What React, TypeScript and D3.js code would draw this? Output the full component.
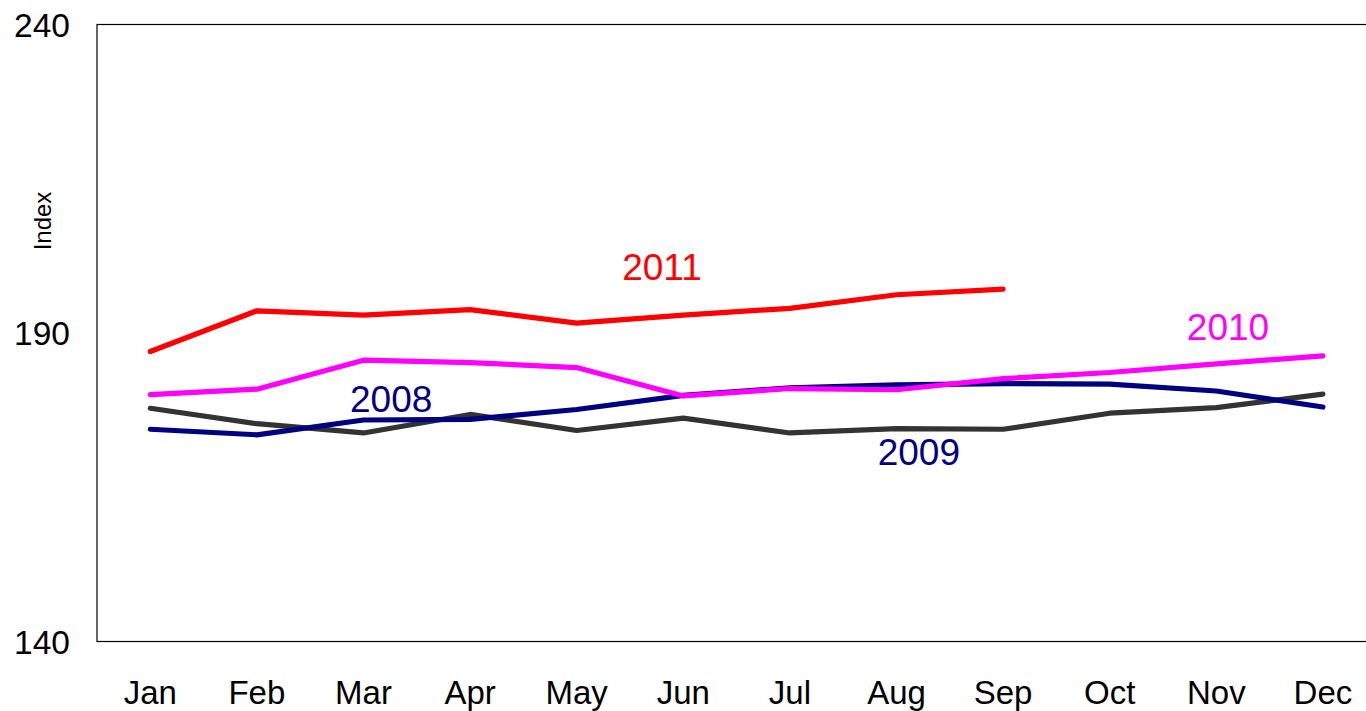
import React from "react";
import * as d3 from "d3";

const months = ["Jan", "Feb", "Mar", "Apr", "May", "Jun", "Jul", "Aug", "Sep", "Oct", "Nov", "Dec"];
const yTicks = [140, 190, 240];

const s2008 = [174.4, 173.5, 175.9, 176.0, 177.6, 179.9, 181.1, 181.6, 181.8, 181.7, 180.6, 178.0];
const s2009 = [177.8, 175.3, 173.8, 176.8, 174.2, 176.2, 173.8, 174.5, 174.4, 177.0, 177.9, 180.1];
const s2010 = [180.0, 180.9, 185.6, 185.2, 184.4, 179.8, 181.0, 180.8, 182.6, 183.6, 185.0, 186.3];
const s2011 = [187.0, 193.6, 192.9, 193.8, 191.6, 192.9, 194.0, 196.2, 197.1];

const seriesList = [
  { name: "2009", values: s2009, color: "#333333" },
  { name: "2008", values: s2008, color: "#000080" },
  { name: "2010", values: s2010, color: "#FF00FF" },
  { name: "2011", values: s2011, color: "#FF0000" },
];

// label anchor positions (month index, value) and colors
const labelNames = ["2011", "2010", "2008", "2009"];
const labelIdx = [4.8, 10.11, 2.26, 7.21];
const labelVals = [198.6, 188.9, 177.2, 168.6];
const labelColors = ["#FF0000", "#FF00FF", "#000080", "#000080"];

export default function App() {
  const W = 1366, H = 711;
  const left = 97, top = 24.5, bottom = 641.5;
  const band = 106.6;
  const right = left + band * 12;
  const x = d3.scalePoint<string>().domain(months).range([left, right]).padding(0.5);
  const xi = d3.scaleLinear().domain([0, 11]).range([x("Jan")!, x("Dec")!]);
  const y = d3.scaleLinear().domain([140, 240]).range([bottom, top]);
  const line = d3
    .line<number>()
    .x((_, i) => x(months[i])!)
    .y((v) => y(v));
  const font = "'Liberation Sans', Arial, sans-serif";
  return (
    <svg width={W} height={H} style={{ position: "absolute", left: 0, top: 0, background: "#fff" }} fontFamily={font}>
      <rect x={left} y={top} width={right - left} height={bottom - top} fill="none" stroke="#000" strokeWidth={1.2} />
      {yTicks.map((t) => (
        <text key={t} x={70} y={y(t)} dy="0.36em" textAnchor="end" fontSize={33.5} fill="#000">
          {t}
        </text>
      ))}
      <text transform={`translate(51,${221}) rotate(-90)`} textAnchor="middle" fontSize={24} fill="#000">
        Index
      </text>
      {months.map((m) => (
        <text key={m} x={x(m)!} y={704} textAnchor="middle" fontSize={33} fill="#000">
          {m}
        </text>
      ))}
      {seriesList.map((s) => (
        <path key={s.name} d={line(s.values)!} fill="none" stroke={s.color} strokeWidth={5.2} strokeLinejoin="round" strokeLinecap="round" />
      ))}
      {labelNames.map((n, i) => (
        <text key={n} x={xi(labelIdx[i])} y={y(labelVals[i])} textAnchor="middle" fontSize={37} fill={labelColors[i]}>
          {n}
        </text>
      ))}
    </svg>
  );
}
